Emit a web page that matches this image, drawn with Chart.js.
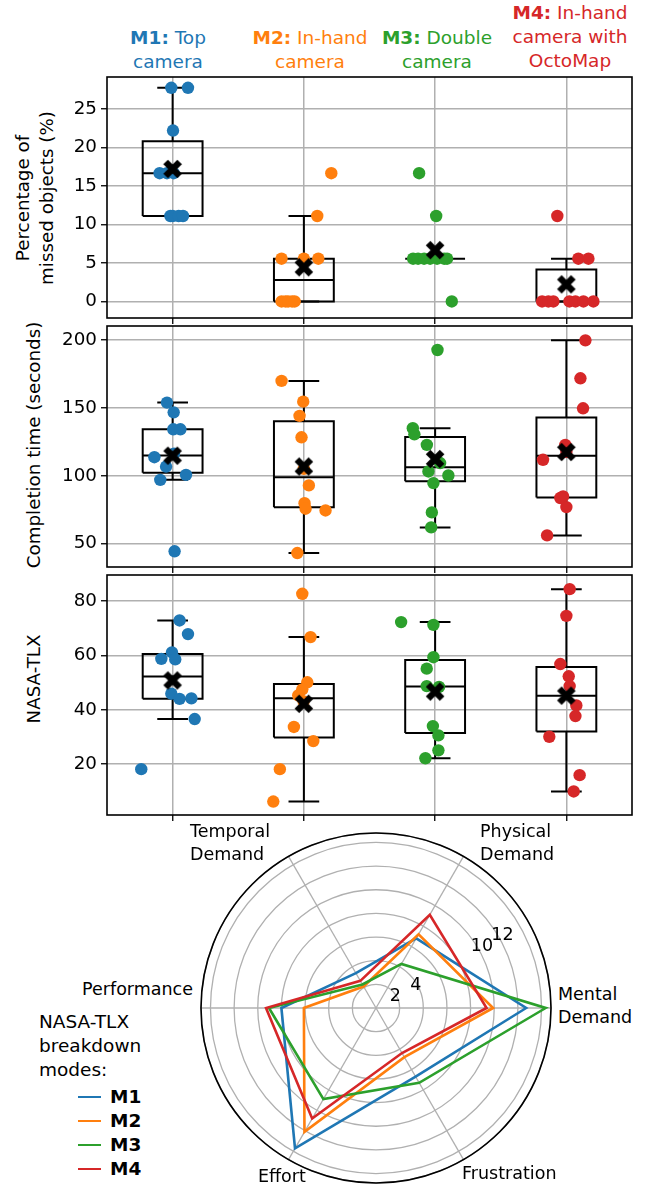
<!DOCTYPE html>
<html><head><meta charset="utf-8">
<script src="https://cdn.jsdelivr.net/npm/chart.js@4.4.1/dist/chart.umd.min.js"></script>
<style>
html,body{margin:0;padding:0;background:#fff;width:651px;height:1188px;overflow:hidden;font-family:'DejaVu Sans',sans-serif;color:#000;}
canvas{position:absolute;left:0;}
.t{position:absolute;white-space:nowrap;line-height:24px;font-size:18.5px;}
.title{transform:translateX(-50%);text-align:center;}
.ylab{position:absolute;white-space:nowrap;text-align:center;font-size:18.3px;line-height:24px;transform:rotate(-90deg);}
.rl{position:absolute;white-space:nowrap;font-size:17.5px;line-height:23px;}
.sw{position:absolute;width:23px;height:0;border-top:2.6px solid;}
</style></head><body>

<div class="t title" style="left:168px;top:26px;color:#1f77b4"><b>M1:</b> Top<br>camera</div>
<div class="t title" style="left:310px;top:26px;color:#ff7f0e"><b>M2:</b> In-hand<br>camera</div>
<div class="t title" style="left:437px;top:26px;color:#2ca02c"><b>M3:</b> Double<br>camera</div>
<div class="t title" style="left:570px;top:1px;color:#d62728"><b>M4:</b> In-hand<br>camera with<br>OctoMap</div>

<div class="ylab" style="left:-74.6px;top:174px;width:220px;height:48px;">Percentage of<br>missed objects (%)</div>
<div class="ylab" style="left:-115.8px;top:433px;width:300px;height:24px;">Completion time (seconds)</div>
<div class="ylab" style="left:-65.8px;top:667px;width:200px;height:24px;">NASA-TLX</div>

<canvas id="c1" width="651" height="265" style="top:65px"></canvas>
<canvas id="c2" width="651" height="265" style="top:314px"></canvas>
<canvas id="c3" width="651" height="264" style="top:563px"></canvas>
<canvas id="c4" width="360" height="360" style="top:828px;left:196px"></canvas>

<div class="rl" style="left:190px;top:820px;">Temporal<br>Demand</div>
<div class="rl" style="left:480px;top:820px;">Physical<br>Demand</div>
<div class="rl" style="left:558px;top:983px;">Mental<br>Demand</div>
<div class="rl" style="right:458px;top:978px;text-align:right;">Performance</div>
<div class="rl" style="left:258px;top:1165px;">Effort</div>
<div class="rl" style="left:462px;top:1162px;">Frustration</div>

<div class="t" style="left:39px;top:1010px;">NASA-TLX<br>breakdown<br>modes:</div>
<div id="legend"></div>

<script>
// ---------------- data ----------------
const modes = ['M1', 'M2', 'M3', 'M4'];
const modeColors = ['#1f77b4', '#ff7f0e', '#2ca02c', '#d62728'];

// Percentage of missed objects (%)
const missedM1 = [27.78, 27.78, 22.22, 16.67, 16.67, 16.67, 11.11, 11.11, 11.11, 11.11];
const missedM2 = [16.67, 11.11, 5.56, 5.56, 5.56, 0, 0, 0, 0, 0];
const missedM3 = [16.67, 11.11, 5.56, 5.56, 5.56, 5.56, 5.56, 5.56, 5.56, 0];
const missedM4 = [11.11, 5.56, 5.56, 0, 0, 0, 0, 0, 0, 0];
const missedJitter = [
  [-0.01, 0.117, 0.003, -0.099, -0.043, 0.008, -0.017, 0.0, 0.046, 0.079],
  [0.209, 0.102, -0.17, 0.0, 0.11, -0.17, -0.14, -0.12, -0.09, -0.07],
  [-0.122, 0.008, -0.168, -0.13, -0.084, -0.038, 0.015, 0.069, 0.091, 0.127],
  [-0.069, 0.091, 0.168, -0.185, -0.137, -0.099, 0.023, 0.069, 0.13, 0.206]
];
const missedTicks = [0, 5, 10, 15, 20, 25];

// Completion time (seconds)
const timeM1 = [154.0, 146.8, 134.3, 134.3, 116.3, 113.7, 106.8, 100.7, 97.0, 44.3];
const timeM2 = [170.0, 154.7, 144.2, 128.4, 105.1, 92.9, 79.8, 75.7, 74.4, 43.0];
const timeM3 = [192.8, 135.1, 130.6, 122.8, 109.4, 103.2, 100.2, 94.6, 73.0, 61.9];
const timeM4 = [199.9, 171.9, 149.8, 122.8, 117.6, 111.8, 84.8, 83.6, 76.9, 56.0];
const timeJitter = [
  [-0.043, 0.008, 0.005, 0.059, 0.01, -0.139, -0.05, 0.102, -0.094, 0.015],
  [-0.17, -0.005, -0.033, -0.018, 0.0, 0.038, 0.005, 0.013, 0.165, -0.05],
  [0.018, -0.17, -0.158, -0.063, 0.038, -0.051, 0.101, -0.013, -0.025, -0.03],
  [0.145, 0.107, 0.127, -0.008, 0.0, -0.178, -0.025, -0.046, 0.0, -0.147]
];
const timeTicks = [50, 100, 150, 200];

// NASA-TLX
const tlxM1 = [72.8, 67.8, 61.1, 58.7, 58.5, 45.9, 44.2, 44.0, 36.6, 18.2];
const tlxM2 = [82.6, 66.7, 50.1, 47.5, 45.3, 43.1, 33.7, 28.5, 18.2, 6.3];
const tlxM3 = [72.2, 71.2, 59.3, 55.1, 48.7, 48.4, 34.0, 30.6, 25.1, 22.2];
const tlxM4 = [84.3, 74.5, 56.8, 52.3, 48.7, 41.6, 37.7, 30.1, 16.0, 10.0];
const tlxJitter = [
  [0.053, 0.117, -0.005, -0.086, 0.02, -0.01, 0.143, 0.053, 0.168, -0.239],
  [-0.012, 0.051, 0.026, -0.012, -0.043, -0.002, -0.076, 0.072, -0.183, -0.233],
  [-0.259, -0.013, -0.013, -0.064, -0.064, 0.03, -0.017, 0.025, 0.025, -0.074],
  [0.025, 0.0, -0.046, 0.018, 0.025, 0.076, 0.069, -0.13, 0.101, 0.056]
];
const tlxTicks = [20, 40, 60, 80];

// NASA-TLX breakdown (radar), clockwise from the right
const radarLabels = ['Mental Demand', 'Frustration', 'Effort', 'Performance', 'Temporal Demand', 'Physical Demand'];
const radarM1 = [12.7, 6.7, 13.7, 8.0, 3.4, 6.8];
const radarM2 = [9.9, 4.8, 12.1, 6.1, 2.1, 7.2];
const radarM3 = [14.35, 7.3, 8.9, 9.05, 2.3, 4.3];
const radarM4 = [9.35, 4.4, 10.8, 9.3, 2.65, 9.1];
const radarTicks = [2, 4, 6, 8, 10, 12, 14];
const radarTickLabels = [2, 4, 10, 12];
const radarMax = 14.8;

// ---------------- helpers ----------------
Chart.defaults.font.family = "'DejaVu Sans', sans-serif";
Chart.defaults.color = '#000';
const GRID = '#b0b0b0';
const BOX_HALF = 0.228, CAP_HALF = 0.117;

function quantile(s, p) {
  const idx = (s.length - 1) * p, lo = Math.floor(idx), hi = Math.ceil(idx);
  return s[lo] + (s[hi] - s[lo]) * (idx - lo);
}
function boxStats(vals) {
  const s = [...vals].sort((a, b) => a - b);
  const q1 = quantile(s, 0.25), med = quantile(s, 0.5), q3 = quantile(s, 0.75), iqr = q3 - q1;
  const lo = s.find(v => v >= q1 - 1.5 * iqr);
  const hi = [...s].reverse().find(v => v <= q3 + 1.5 * iqr);
  const mean = s.reduce((a, b) => a + b, 0) / s.length;
  return { q1, med, q3, lo, hi, mean };
}

// mean marker (filled X)
const xMark = document.createElement('canvas');
xMark.width = 22; xMark.height = 22;
(function () {
  const c = xMark.getContext('2d');
  c.strokeStyle = '#000'; c.lineWidth = 6.5; c.lineCap = 'butt';
  c.beginPath(); c.moveTo(4, 4); c.lineTo(18, 18); c.moveTo(18, 4); c.lineTo(4, 18); c.stroke();
})();

const framePlugin = {
  id: 'frame',
  afterDraw(chart) {
    const { ctx, chartArea: a } = chart;
    ctx.save(); ctx.strokeStyle = '#000'; ctx.lineWidth = 1.6;
    ctx.strokeRect(a.left, a.top, a.right - a.left, a.bottom - a.top); ctx.restore();
  }
};

function noPad(s) { s.paddingTop = 0; s.paddingBottom = 0; s.paddingLeft = 0; s.paddingRight = 0; }

function boxPanel(id, series, jitter, ticks, yMin, yMax) {
  const stats = series.map(boxStats);
  const GAP = x => ({ x, y: null });
  const boxPts = [], whiskPts = [];
  stats.forEach((st, i) => {
    const x = i + 1;
    boxPts.push({ x: x - BOX_HALF, y: st.q1 }, { x: x + BOX_HALF, y: st.q1 }, { x: x + BOX_HALF, y: st.q3 },
      { x: x - BOX_HALF, y: st.q3 }, { x: x - BOX_HALF, y: st.q1 }, GAP(x),
      { x: x - BOX_HALF, y: st.med }, { x: x + BOX_HALF, y: st.med }, GAP(x));
    whiskPts.push({ x, y: st.q1 }, { x, y: st.lo }, GAP(x),
      { x: x - CAP_HALF, y: st.lo }, { x: x + CAP_HALF, y: st.lo }, GAP(x),
      { x, y: st.q3 }, { x, y: st.hi }, GAP(x),
      { x: x - CAP_HALF, y: st.hi }, { x: x + CAP_HALF, y: st.hi }, GAP(x));
  });
  const datasets = [
    { data: boxPts, showLine: true, borderColor: '#000', borderWidth: 2, pointRadius: 0, spanGaps: false, order: 3 },
    { data: whiskPts, showLine: true, borderColor: '#000', borderWidth: 2, pointRadius: 0, spanGaps: false, order: 2 }
  ];
  series.forEach((vals, i) => {
    datasets.push({
      data: vals.map((v, j) => ({ x: i + 1 + jitter[i][j], y: v })),
      backgroundColor: modeColors[i], borderWidth: 0, pointRadius: 6.2, order: 1
    });
  });
  datasets.push({
    data: stats.map((st, i) => ({ x: i + 1, y: st.mean })),
    pointStyle: xMark, pointRadius: 11, order: 0
  });
  new Chart(document.getElementById(id), {
    type: 'scatter',
    data: { datasets },
    options: {
      responsive: false, animation: false, devicePixelRatio: 1,
      layout: { padding: { left: 0, right: 19, top: 10, bottom: 1 } },
      plugins: { legend: { display: false }, tooltip: { enabled: false } },
      scales: {
        x: {
          type: 'linear', min: 0.5, max: 4.5,
          afterBuildTicks: s => { s.ticks = modes.map((m, i) => ({ value: i + 1 })); },
          afterFit: s => { s.height = 8; noPad(s); },
          ticks: { display: false },
          border: { display: false },
          grid: { color: GRID, lineWidth: 1.5, drawTicks: true, tickLength: 6, tickColor: '#000', tickWidth: 1.3 }
        },
        y: {
          min: yMin, max: yMax,
          afterBuildTicks: s => { s.ticks = ticks.map(v => ({ value: v })); },
          afterFit: s => { s.width = 107; noPad(s); },
          ticks: { font: { size: 18.3 }, color: '#000', padding: 4 },
          border: { display: false },
          grid: { color: GRID, lineWidth: 1.5, drawTicks: true, tickLength: 6, tickColor: '#000', tickWidth: 1.3 }
        }
      }
    },
    plugins: [framePlugin]
  });
}

boxPanel('c1', [missedM1, missedM2, missedM3, missedM4], missedJitter, missedTicks, -2.15, 29.18);
boxPanel('c2', [timeM1, timeM2, timeM3, timeM4], timeJitter, timeTicks, 32.7, 210.5);
boxPanel('c3', [tlxM1, tlxM2, tlxM3, tlxM4], tlxJitter, tlxTicks, 1.36, 89.5);

// ---------------- radar ----------------
const radarPlugin = {
  id: 'radarDeco',
  beforeDatasetsDraw(chart) {
    const s = chart.scales.r, ctx = chart.ctx;
    ctx.save(); ctx.strokeStyle = '#000'; ctx.lineWidth = 1.6;
    ctx.beginPath(); ctx.arc(s.xCenter, s.yCenter, s.getDistanceFromCenterForValue(radarMax), 0, Math.PI * 2); ctx.stroke();
    ctx.restore();
  },
  afterDatasetsDraw(chart) {
    const s = chart.scales.r, ctx = chart.ctx;
    ctx.save(); ctx.fillStyle = '#000'; ctx.font = "17.5px 'DejaVu Sans'";
    ctx.textAlign = 'center'; ctx.textBaseline = 'middle';
    radarTickLabels.forEach(v => {
      const w = ctx.measureText(String(v)).width;
      const p = s.getPointPosition(-0.5, s.getDistanceFromCenterForValue(v) + w / 2 - 7);
      ctx.fillText(String(v), p.x, p.y);
    });
    ctx.restore();
  }
};
const radarSeries = [radarM1, radarM2, radarM3, radarM4];
new Chart(document.getElementById('c4'), {
  type: 'radar',
  data: {
    labels: radarLabels,
    datasets: radarSeries.map((vals, i) => ({
      label: modes[i], data: vals, borderColor: modeColors[i], borderWidth: 2.6,
      fill: false, pointRadius: 0, tension: 0, order: 3 - i
    }))
  },
  options: {
    responsive: false, animation: false, devicePixelRatio: 1,
    layout: { padding: 5 },
    plugins: { legend: { display: false }, tooltip: { enabled: false } },
    scales: {
      r: {
        min: 0, max: radarMax, startAngle: 90,
        afterBuildTicks: s => { s.ticks = [0, ...radarTicks, radarMax].map(v => ({ value: v })); },
        ticks: { display: false },
        pointLabels: { display: false },
        grid: { circular: true, color: GRID, lineWidth: 1.3 },
        angleLines: { color: GRID, lineWidth: 1.3 }
      }
    }
  },
  plugins: [radarPlugin]
});

// legend (HTML)
const lg = document.getElementById('legend');
modes.forEach((m, i) => {
  const y = 1097.7 + i * 23.9;
  const sw = document.createElement('div');
  sw.className = 'sw'; sw.style.left = '78px'; sw.style.top = (y - 1.3) + 'px'; sw.style.borderColor = modeColors[i];
  lg.appendChild(sw);
  const tx = document.createElement('div');
  tx.className = 't'; tx.style.left = '110px'; tx.style.top = (y - 12.5) + 'px'; tx.style.fontWeight = 'bold';
  tx.textContent = m;
  lg.appendChild(tx);
});
</script>
</body></html>
